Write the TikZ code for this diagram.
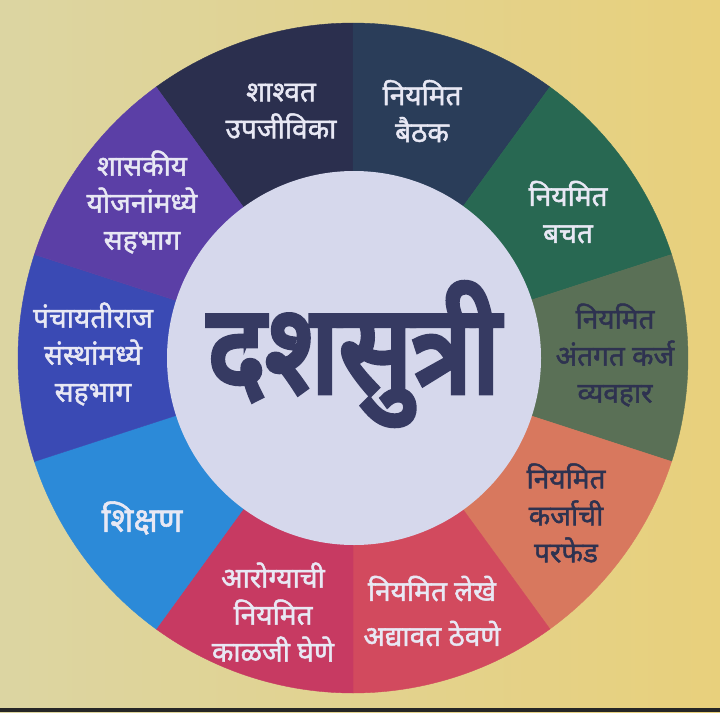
\documentclass[tikz,border=0pt]{standalone}
\usepackage{fontspec}
\usepackage{graphicx}
\newfontfamily\dev[Script=Devanagari, FakeBold=1.6]{Noto Sans}
\newfontfamily\devtitle[Script=Devanagari, FakeBold=5]{Noto Sans}
\definecolor{bgL}{HTML}{DCD5A2}
\definecolor{bgR}{HTML}{E8D07C}
\definecolor{cA}{HTML}{2B2F4E}
\definecolor{cB}{HTML}{2A3D59}
\definecolor{cC}{HTML}{286852}
\definecolor{cD}{HTML}{5A7056}
\definecolor{cE}{HTML}{D8785E}
\definecolor{cF}{HTML}{D24A5E}
\definecolor{cG}{HTML}{C73A62}
\definecolor{cH}{HTML}{2C8AD8}
\definecolor{cI}{HTML}{3A4AB4}
\definecolor{cJ}{HTML}{5B3FA6}
\definecolor{innerc}{HTML}{D6D8EC}
\definecolor{titlec}{HTML}{363A62}
\definecolor{lighttext}{HTML}{E8E8F4}
\definecolor{darktext}{HTML}{2E3250}
\begin{document}
\begin{tikzpicture}[x=1pt,y=-1pt,
  lbl/.style={font=\dev\fontsize{28}{37}\selectfont, align=center, text=lighttext, inner sep=0pt},
  dlbl/.style={lbl, text=darktext}]
\shade[left color=bgL, right color=bgR] (0,0) rectangle (720,712);
\useasboundingbox (0,0) rectangle (720,712);
\fill[black!85] (0,708) rectangle (720,712);
\coordinate (C) at (353,358);
\foreach \a/\b/\col in {90/126/cA, 54/90/cB, 18/54/cC, -18/18/cD, -54/-18/cE, -90/-54/cF, -126/-90/cG, -162/-126/cH, 162/198/cI, 126/162/cJ}
  \filldraw[fill=\col, draw=\col, line width=0.4pt] (C) -- plot[domain=\a:\b, samples=30] ({353+335*cos(\x)},{358-335*sin(\x)}) -- cycle;
\fill[innerc] (354,358) circle[radius=187];
\node[font=\devtitle, text=titlec, inner sep=0pt] (title) at (354,354) {\scalebox{1}[1.13]{\resizebox{292pt}{!}{दशसुत्री}}};
\node[lbl] (l1) at (281,111) {शाश्वत\\उपजीविका};
\node[lbl] (l2) at (422,111) {नियमित\\बैठक};
\node[lbl] (l3) at (568,212) {नियमित\\बचत};
\node[dlbl] (l4) at (615,355) {नियमित\\अंतगत कर्ज\\व्यवहार};
\node[dlbl] (l5) at (566,513) {नियमित\\कर्जाची\\परफेड};
\node[lbl] (l6) at (432,611) {नियमित लेखे\\[8pt]अद्यावत ठेवणे};
\node[lbl] (l7) at (273,612) {आरोग्याची\\नियमित\\काळजी घेणे};
\node[lbl, font=\dev\fontsize{34}{40}\selectfont] (l8) at (142,518) {शिक्षण};
\node[lbl] (l9) at (93,354) {पंचायतीराज\\संस्थांमध्ये\\सहभाग};
\node[lbl] (l10) at (142,202) {शासकीय\\योजनांमध्ये\\सहभाग};
\end{tikzpicture}
\end{document}
